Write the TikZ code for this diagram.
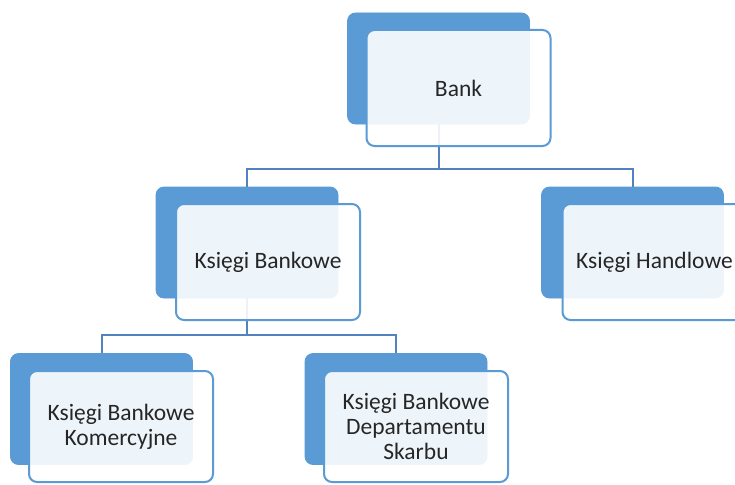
\documentclass[tikz,border=0pt]{standalone}
\usepackage{fontspec}
\setmainfont{Carlito}
\definecolor{offblue}{HTML}{5B9BD5}
\definecolor{connblue}{HTML}{5283BE}
\definecolor{txtgray}{HTML}{262626}
\begin{document}
\begin{tikzpicture}[x=1pt,y=-1pt,
  backbox/.style={rectangle, rounded corners=8pt, fill=offblue, draw=offblue, line width=0.8pt,
    minimum width=182pt, minimum height=111pt, inner sep=0pt},
  frontbox/.style={rectangle, rounded corners=8pt, draw=offblue, line width=2pt,
    fill=white, fill opacity=0.9, text opacity=1, text=txtgray,
    minimum width=184pt, minimum height=116pt, inner sep=2pt, align=center,
    font=\fontsize{23.5}{25}\selectfont},
  conn/.style={draw=connblue, line width=2pt}]
\useasboundingbox (0,0) rectangle (735,484);
\fill[white] (0,0) rectangle (735,484);
\clip (0,0) rectangle (735,484);
% back boxes
\node[backbox] (bankB) at (438.5,68.5) {};
\node[backbox] (kbB) at (247,242.5) {};
\node[backbox] (khB) at (632.5,242.5) {};
\node[backbox] (kbkB) at (101.5,409) {};
\node[backbox] (kbdsB) at (396,409) {};
% connectors
\draw[conn] (bankB.south) -- (bankB.south |- 0,169) -| (kbB.north);
\draw[conn] (bankB.south |- 0,169) -| (khB.north);
\draw[conn] (kbB.south) -- (kbB.south |- 0,335) -| (kbkB.north);
\draw[conn] (kbB.south |- 0,335) -| (kbdsB.north);
% front boxes
\node[frontbox] (bank) at (458.5,88) {Bank};
\node[frontbox] (kb) at (268,262) {Księgi Bankowe};
\node[frontbox] (kh) at (654.5,262) {Księgi Handlowe};
\node[frontbox, minimum height=111pt] (kbk) at (121,426.5) {Księgi Bankowe\\Komercyjne};
\node[frontbox, minimum height=111pt] (kbds) at (416,426.5) {Księgi Bankowe\\Departamentu\\Skarbu};
\end{tikzpicture}
\end{document}
